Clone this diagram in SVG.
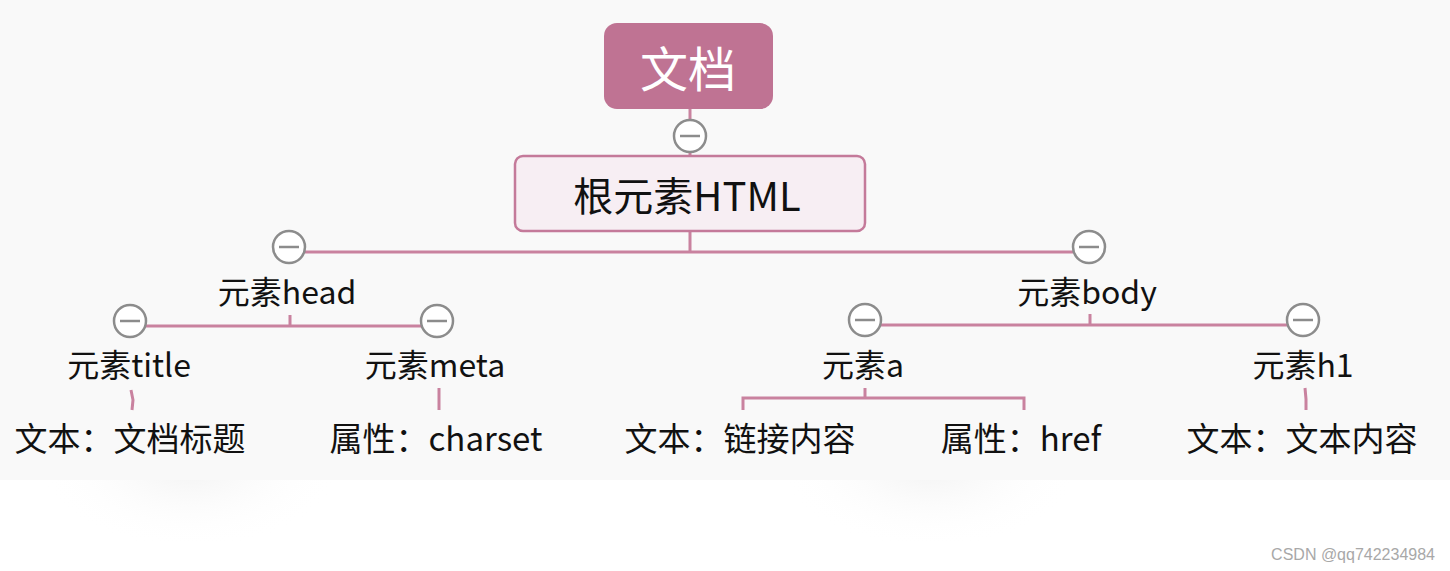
<svg xmlns="http://www.w3.org/2000/svg" width="1450" height="571" viewBox="0 0 1450 571">
<style>
.t{font-family:"Noto Sans CJK SC","Noto Sans",sans-serif;fill:#111;text-anchor:middle}
.lbl{font-size:32px}
.leaf{font-size:33px}
.c{fill:#fff;stroke:#8c8c8c;stroke-width:2.5}
.cm{stroke:#8c8c8c;stroke-width:2.5}
.ln{stroke:#c9829f;stroke-width:3;fill:none}
</style>
<defs>
<radialGradient id="sh" cx="0.5" cy="0.3" r="0.5">
<stop offset="0" stop-color="#f3f3f3"/>
<stop offset="1" stop-color="#ffffff" stop-opacity="0"/>
</radialGradient>
</defs>
<rect x="0" y="0" width="1450" height="571" fill="#ffffff"/>
<ellipse cx="190" cy="500" rx="150" ry="80" fill="url(#sh)"/>
<ellipse cx="930" cy="500" rx="150" ry="80" fill="url(#sh)"/>
<rect x="0" y="0" width="1450" height="480" fill="#f9f9f9"/>

<g id="connectors">
<path class="ln" d="M690 109 V120"/>
<path class="ln" d="M690 152 V156"/>
<path class="ln" d="M690 231 V252 M305 252 H1073"/>
<path class="ln" d="M290 315 V326 M146 326 H421"/>
<path class="ln" d="M1090 314 V325 M881 325 H1287"/>
<path class="ln" d="M131 390 L133 400 L132 410"/>
<path class="ln" d="M439 388 V410"/>
<path class="ln" d="M865 388 V398 M743 410 V398 H1024 V410"/>
<path class="ln" d="M1305 388 L1306 399 L1306 410"/>
</g>

<g id="n-doc">
<rect x="604" y="23" width="169" height="86" rx="13" fill="#bf7393"/>
<text class="t" x="688" y="87" font-size="48" style="fill:#fff">文档</text>
<circle class="c" cx="690" cy="136" r="16"/><path class="cm" d="M680 136 H700"/>
</g>

<g id="n-html">
<rect x="515" y="156" width="350" height="75" rx="8" fill="#f7eef3" stroke="#c47a9a" stroke-width="2.5"/>
<text class="t" x="687" y="211" font-size="40">根元素HTML</text>
</g>

<g id="n-head">
<circle class="c" cx="289" cy="247" r="16"/><path class="cm" d="M279 247 H299"/>
<text class="t lbl" x="287" y="304">元素head</text>
</g>

<g id="n-body">
<circle class="c" cx="1089" cy="247" r="16"/><path class="cm" d="M1079 247 H1099"/>
<text class="t lbl" x="1087" y="304">元素body</text>
</g>

<g id="n-title">
<circle class="c" cx="130" cy="321" r="16"/><path class="cm" d="M120 321 H140"/>
<text class="t lbl" x="129" y="377">元素title</text>
</g>

<g id="n-meta">
<circle class="c" cx="437" cy="321" r="16"/><path class="cm" d="M427 321 H447"/>
<text class="t lbl" x="435" y="377">元素meta</text>
</g>

<g id="n-a">
<circle class="c" cx="865" cy="320" r="16"/><path class="cm" d="M855 320 H875"/>
<text class="t lbl" x="863" y="377">元素a</text>
</g>

<g id="n-h1">
<circle class="c" cx="1303" cy="320" r="16"/><path class="cm" d="M1293 320 H1313"/>
<text class="t lbl" x="1303" y="377">元素h1</text>
</g>

<g id="n-title-text"><text class="t leaf" x="130" y="451">文本：文档标题</text></g>
<g id="n-meta-attr"><text class="t leaf" x="436" y="451">属性：charset</text></g>
<g id="n-a-text"><text class="t leaf" x="740" y="451">文本：链接内容</text></g>
<g id="n-a-attr"><text class="t leaf" x="1021" y="451">属性：href</text></g>
<g id="n-h1-text"><text class="t leaf" x="1302" y="451">文本：文本内容</text></g>

<text x="1435" y="560" font-family="'Liberation Sans',sans-serif" font-size="16" fill="#a8a8a8" text-anchor="end">CSDN @qq742234984</text>
</svg>
